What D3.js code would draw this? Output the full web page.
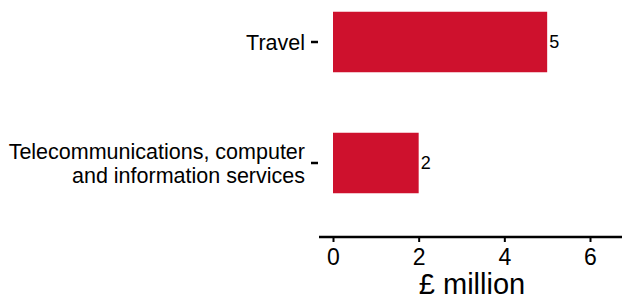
<!DOCTYPE html>
<html><head><meta charset="utf-8">
<script src="https://cdn.jsdelivr.net/npm/d3@7"></script>
<style>body{margin:0;background:#fff}svg{display:block;font-family:"Liberation Sans",Arial,sans-serif}</style>
</head><body>
<svg id="c" width="622" height="299"></svg>
<script>
const categories = [["Travel"], ["Telecommunications, computer", "and information services"]];
const categoryKeys = ["Travel", "Telecommunications, computer and information services"];
const values = [5, 2];
const xTicks = [0, 2, 4, 6];
const axisTitle = "£ million";

const svg = d3.select("#c");
const x = d3.scaleLinear().domain([0, 6]).range([333, 590]);
const y = d3.scaleBand().domain(categoryKeys).range([-18.5, 223.5]).paddingInner(0.5).paddingOuter(0.25);

svg.selectAll("rect.bar").data(values).join("rect")
  .attr("class", "bar")
  .attr("x", x(0))
  .attr("y", (d, i) => y(categoryKeys[i]))
  .attr("width", d => x(d) - x(0))
  .attr("height", y.bandwidth())
  .attr("fill", "#CE112D");

svg.selectAll("text.val").data(values).join("text")
  .attr("class", "val")
  .attr("x", d => x(d) + 2)
  .attr("y", (d, i) => y(categoryKeys[i]) + y.bandwidth() / 2)
  .attr("dy", "0.35em")
  .style("font-size", "18px")
  .attr("fill", "#000")
  .text(d => d);

// y ticks + labels
const yg = svg.append("g");
categoryKeys.forEach((k, i) => {
  const cy = y(k) + y.bandwidth() / 2;
  yg.append("line").attr("x1", 311).attr("x2", 318).attr("y1", cy).attr("y2", cy)
    .attr("stroke", "#000").attr("stroke-width", 2.5);
  const lines = categories[i];
  const lh = 24;
  const t = yg.append("text").attr("text-anchor", "end").style("font-size", "21.5px").attr("fill", "#000");
  lines.forEach((ln, j) => {
    t.append("tspan").attr("x", 305)
      .attr("y", cy + (j - (lines.length - 1) / 2) * lh)
      .attr("dy", "0.35em").text(ln);
  });
});

// x axis
const ay = 237;
const xa = svg.append("g").attr("transform", `translate(0,${ay})`)
  .call(d3.axisBottom(x).tickValues(xTicks).tickSize(5).tickPadding(7).tickFormat(d3.format("d")));
xa.select(".domain").remove();
xa.attr("font-size", null).attr("font-family", null);
xa.selectAll(".tick line").attr("stroke", "#000").attr("stroke-width", 2);
xa.selectAll(".tick text").attr("font-size", 23).style("font-size", "23px").attr("fill", "#000");
svg.append("line").attr("x1", 319).attr("x2", 622).attr("y1", ay).attr("y2", ay)
  .attr("stroke", "#000").attr("stroke-width", 2.5);

svg.append("text").attr("x", 472).attr("y", 294).attr("text-anchor", "middle")
  .style("font-size", "29px").attr("fill", "#000").text(axisTitle);
</script>
</body></html>
